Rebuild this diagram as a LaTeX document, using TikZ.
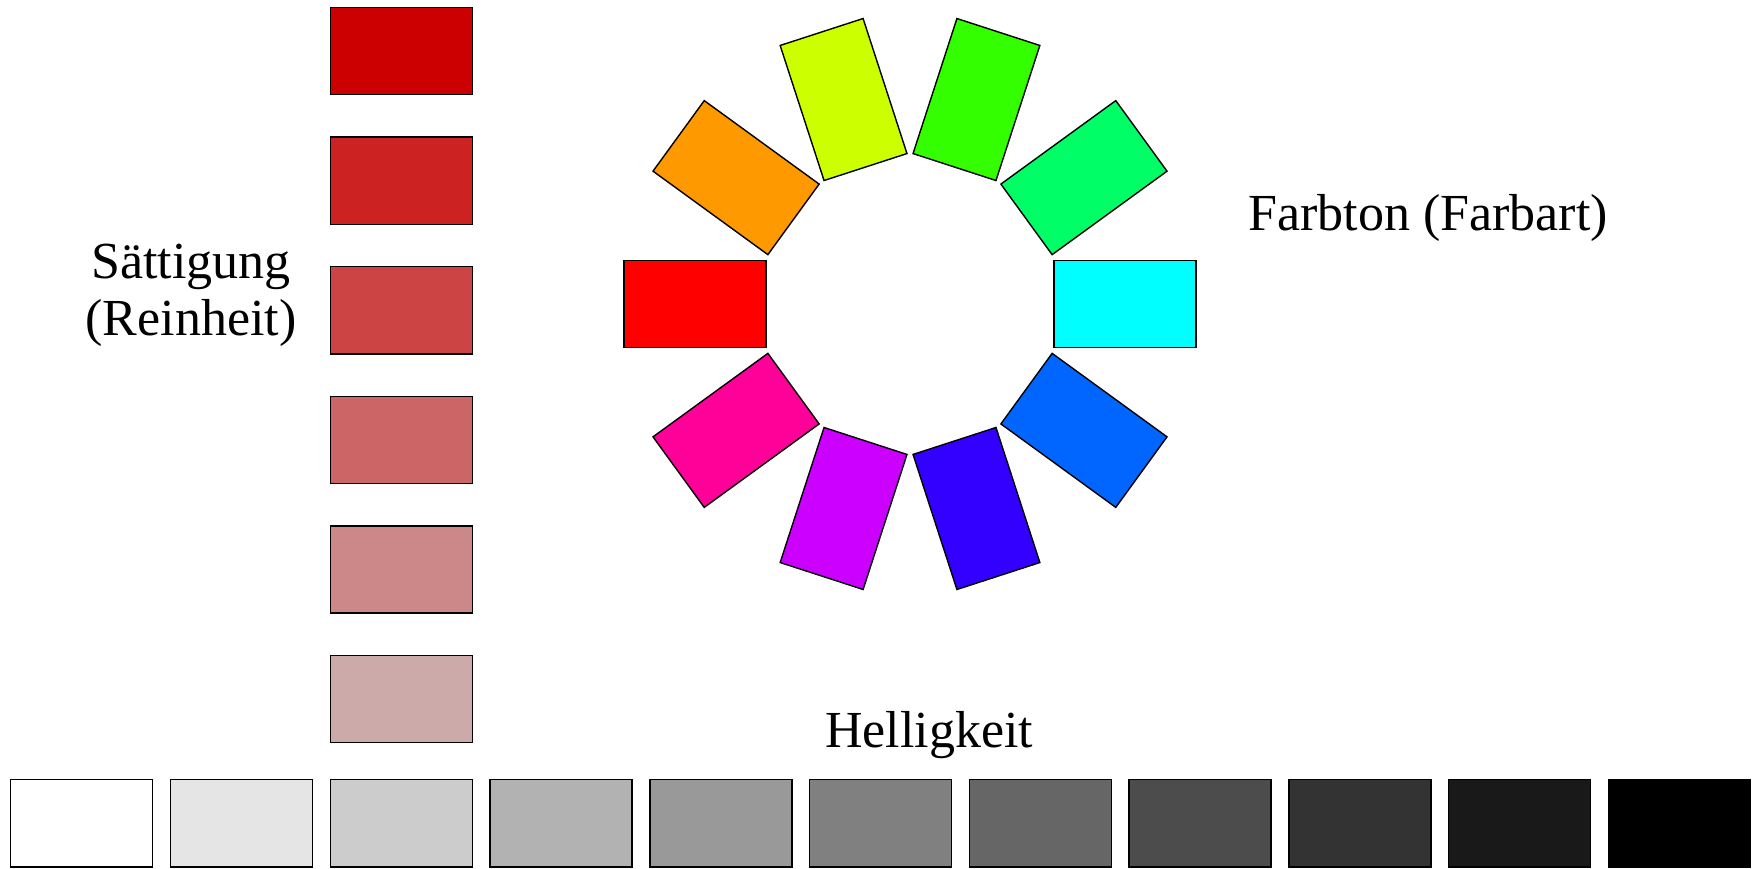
\documentclass[tikz,border=0pt]{standalone}
\usepackage{fontspec}
\setmainfont{Liberation Serif}
\definecolor{hue0}{HTML}{FF0000}
\definecolor{hue1}{HTML}{FF9900}
\definecolor{hue2}{HTML}{CCFF00}
\definecolor{hue3}{HTML}{33FF00}
\definecolor{hue4}{HTML}{00FF66}
\definecolor{hue5}{HTML}{00FFFF}
\definecolor{hue6}{HTML}{0066FF}
\definecolor{hue7}{HTML}{3300FF}
\definecolor{hue8}{HTML}{CC00FF}
\definecolor{hue9}{HTML}{FF0099}
\definecolor{sat0}{HTML}{CC0000}
\definecolor{sat1}{HTML}{CC2222}
\definecolor{sat2}{HTML}{CC4444}
\definecolor{sat3}{HTML}{CC6666}
\definecolor{sat4}{HTML}{CC8888}
\definecolor{sat5}{HTML}{CCAAAA}
\begin{document}
\begin{tikzpicture}[x=0.5pt,y=-0.5pt,
  swatch/.style={draw=black, line width=0.7pt, inner sep=0pt,
    minimum width=71pt, minimum height=43.6pt},
  lbl/.style={font=\fontsize{26}{28.5}\selectfont, inner sep=0pt}]
\useasboundingbox (0,0) rectangle (1759,868);
% hue wheel
\foreach \i in {0,...,9}{
  \pgfmathsetmacro\a{180-36*\i}
  \node[swatch, fill=hue\i, rotate=\a] (h\i)
    at ({910+215*cos(\a)},{304-215*sin(\a)}) {};
}
% saturation column
\foreach \i in {0,...,5}{
  \node[swatch, fill=sat\i] (s\i) at (401.5,{51+129.6*\i}) {};
}
% lightness row
\foreach \i in {0,...,10}{
  \pgfmathsetmacro\g{100-10*\i}
  \node[swatch, fill=white!\g!black] (g\i) at ({81.75+159.77*\i},823.3) {};
}
\node[lbl, align=center] (satlbl) at (191,295) {Sättigung\\(Reinheit)};
\node[lbl, anchor=base] (huelbl) at (1428,230) {Farbton (Farbart)};
\node[lbl, anchor=base] (vallbl) at (929,747) {Helligkeit};
\end{tikzpicture}
\end{document}
